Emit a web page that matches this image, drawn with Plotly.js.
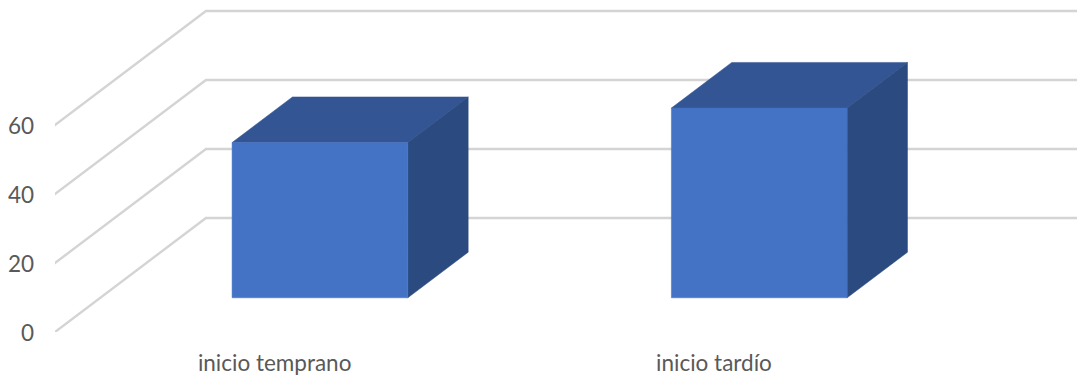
<!DOCTYPE html>
<html>
<head>
<meta charset="utf-8">
<script src="https://cdn.plot.ly/plotly-3.0.1.min.js"></script>
<style>html,body{margin:0;padding:0;background:#fff}#chart{width:1077px;height:378px}</style>
</head>
<body>
<div id="chart"></div>
<script>
// Series and axis content
const categories = ['inicio temprano', 'inicio tardío'];
const values = [45, 55];
const gridValues = [0, 20, 40, 60];

// Oblique projection of the chart's depth onto the x / y axes
const depthX = 0.3436;   // category units from front plane to back wall
const depthY = 33.04;    // value units from front plane to back wall
const barWidth = 0.4;
const barFront = 0.3;    // depth fractions occupied by the bars
const barBack = 0.7;
const gridStart = -0.012;
const xEnd = 2.33;

const colors = {front: '#4472C4', top: '#335593', side: '#2A4A80', grid: '#D4D4D4', text: '#595959'};
const tickFont = {family: 'Lato, Carlito, sans-serif', size: 22.5, color: colors.text};

// Map a point (category position, value, depth fraction) to axis coordinates
const project = (x, v, d) => [x + d * depthX, v + d * depthY];

function face(points, fillcolor) {
  const closed = points.concat([points[0]]);
  return {
    type: 'scatter', mode: 'lines',
    x: closed.map(p => p[0]), y: closed.map(p => p[1]),
    fill: 'toself', fillcolor, line: {color: fillcolor, width: 0.5},
    hoverinfo: 'skip', showlegend: false
  };
}

const data = [];

// Gridlines: slanted across the floor side, then along the back wall
gridValues.forEach(v => {
  const pts = [project(0, v, gridStart), project(0, v, 1), project(xEnd, v, 1)];
  data.push({
    type: 'scatter', mode: 'lines', cliponaxis: false,
    x: pts.map(p => p[0]), y: pts.map(p => p[1]),
    line: {color: colors.grid, width: 2.4}, hoverinfo: 'skip', showlegend: false
  });
});

// Each bar is a box standing on the floor: top, side, then front face
values.forEach((v, i) => {
  const l = i + 0.5 - barWidth / 2, r = i + 0.5 + barWidth / 2;
  const atFront = (x, h) => project(x, h, barFront);
  const atBack = (x, h) => project(x, h, barBack);
  data.push(face([atFront(l, v), atBack(l, v), atBack(r, v), atFront(r, v)], colors.top));
  data.push(face([atFront(r, v), atBack(r, v), atBack(r, 0), atFront(r, 0)], colors.side));
  data.push(face([atFront(l, 0), atFront(l, v), atFront(r, v), atFront(r, 0)], colors.front));
});

const layout = {
  width: 1077, height: 378,
  margin: {l: 54.5, r: 0, t: 0, b: 46},
  paper_bgcolor: '#fff', plot_bgcolor: '#fff',
  showlegend: false,
  xaxis: {
    range: [0, 2.3264], tickmode: 'array',
    tickvals: categories.map((_, i) => i + 0.5), ticktext: categories,
    showgrid: false, zeroline: false, showline: false, ticks: '',
    ticklabelstandoff: 15, tickfont: tickFont
  },
  yaxis: {
    range: [0, 96.23], tickmode: 'array',
    tickvals: gridValues, ticktext: gridValues.map(String),
    showgrid: false, zeroline: false, showline: false, ticks: '',
    ticklabelstandoff: 20, ticklabelshift: 1, tickfont: tickFont
  }
};

Plotly.newPlot('chart', data, layout, {displayModeBar: false, staticPlot: true});
</script>
</body>
</html>
